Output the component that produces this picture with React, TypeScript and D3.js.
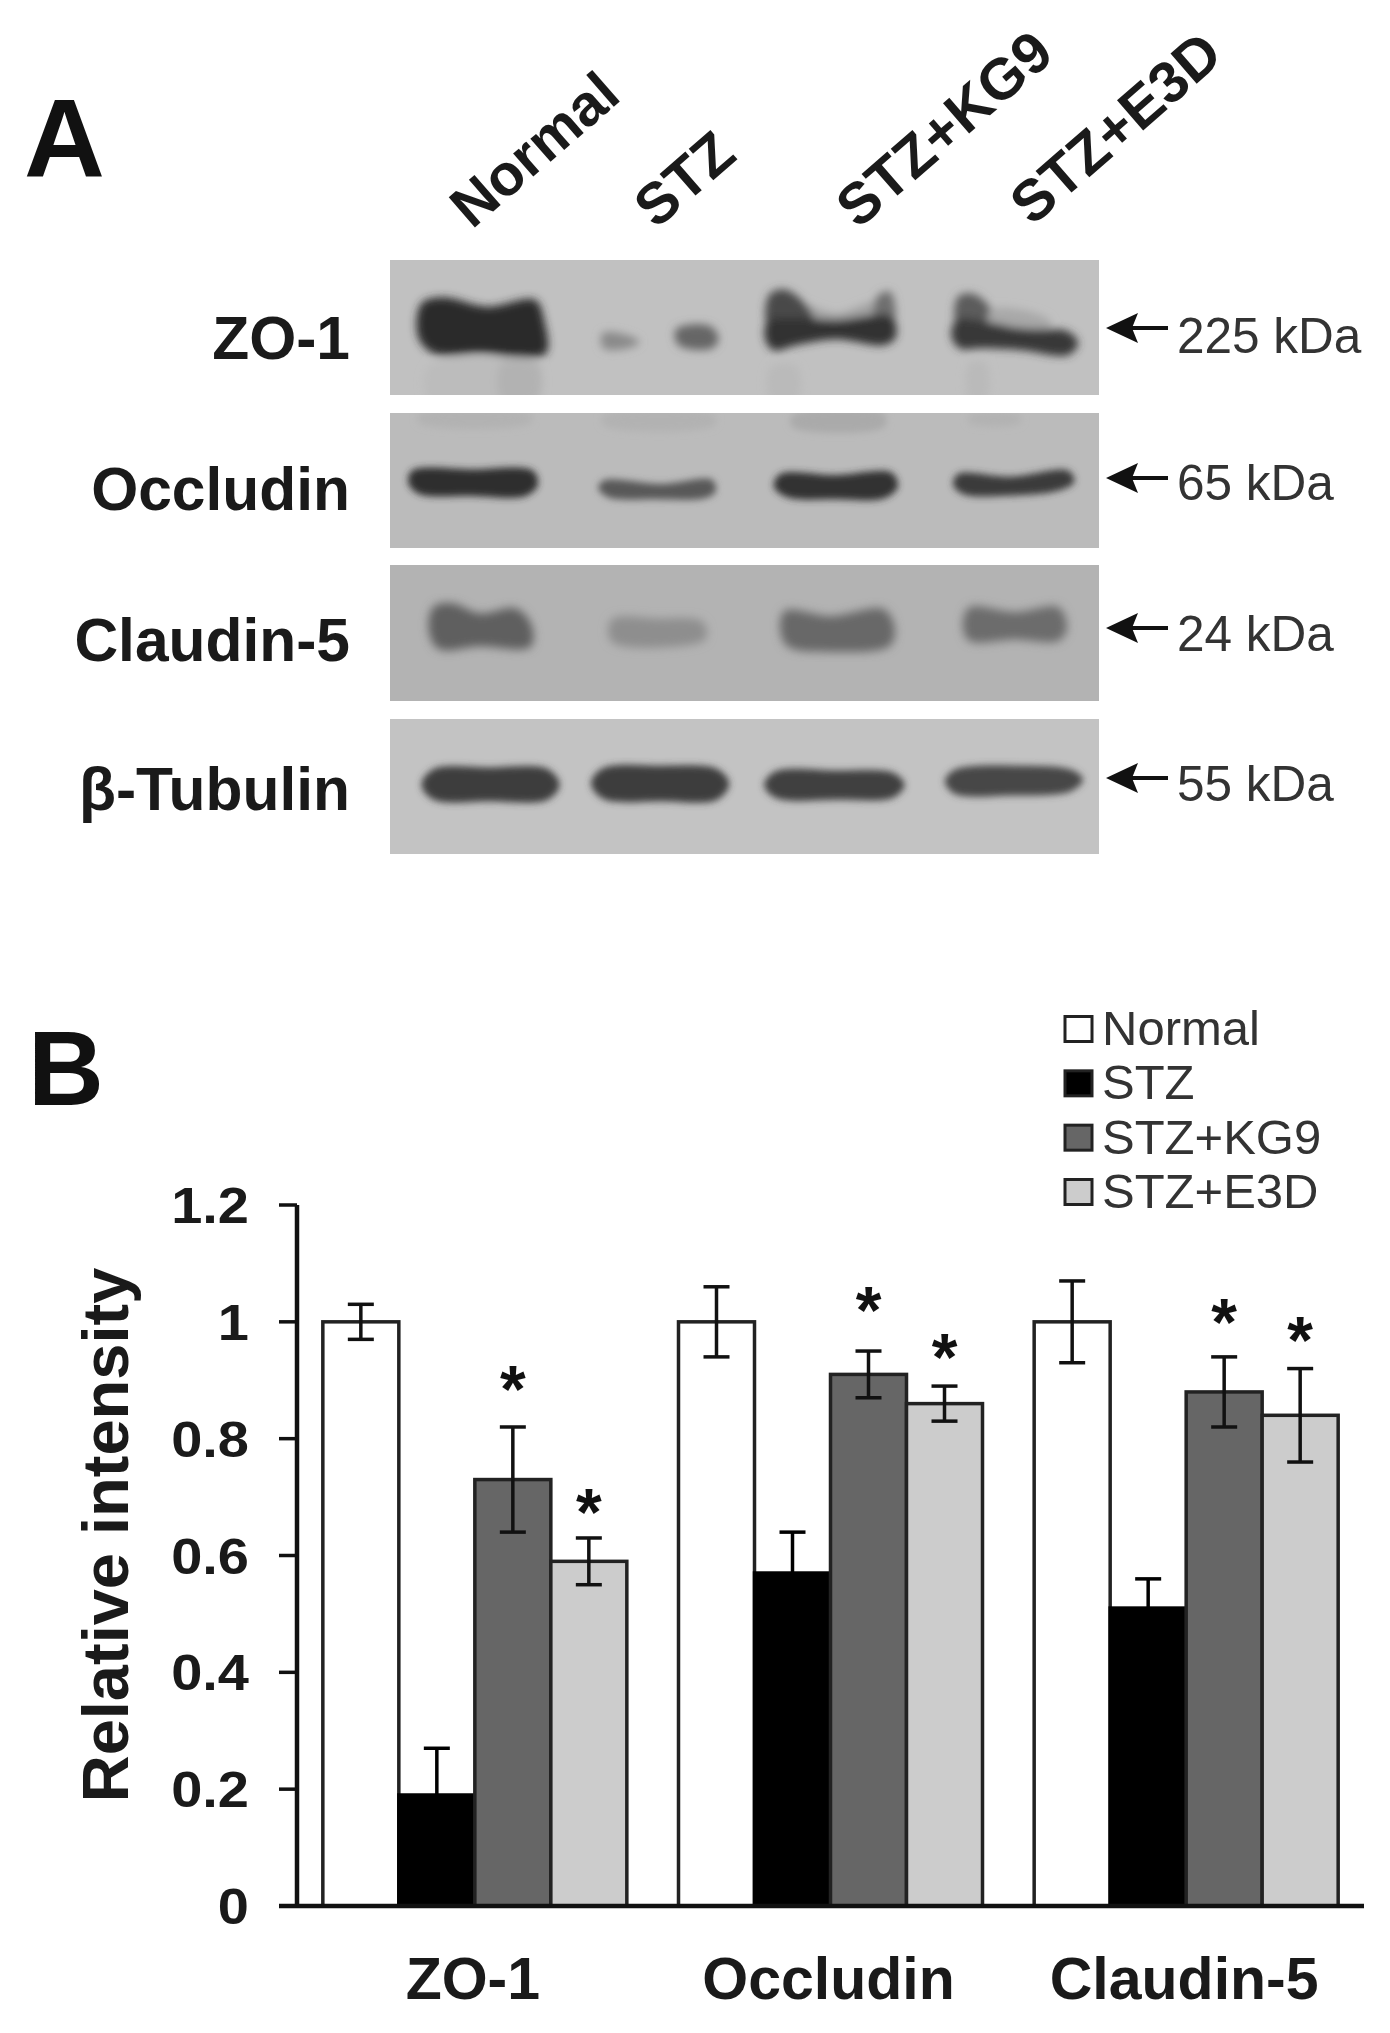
import React from "react";
import * as d3 from "d3";

const groups = ["ZO-1", "Occludin", "Claudin-5"];
const series = ["Normal", "STZ", "STZ+KG9", "STZ+E3D"];
const normalValues = [1, 1, 1];
const stzValues = [0.19, 0.57, 0.51];
const kg9Values = [0.73, 0.91, 0.88];
const e3dValues = [0.59, 0.86, 0.84];
const normalErrors = [0.03, 0.06, 0.07];
const stzErrors = [0.08, 0.07, 0.05];
const kg9Errors = [0.09, 0.04, 0.06];
const e3dErrors = [0.04, 0.03, 0.08];
const starLevels = [
  [null, null, 0.9, 0.69],
  [null, null, 1.035, 0.955],
  [null, null, 1.015, 0.985],
];
const yTicks = [0, 0.2, 0.4, 0.6, 0.8, 1, 1.2];
const fills = ["#ffffff", "#000000", "#666666", "#cccccc"];

const laneLabels = ["Normal", "STZ", "STZ+KG9", "STZ+E3D"];
const blotRows = ["ZO-1", "Occludin", "Claudin-5", "β-Tubulin"];
const blotWeights = ["225 kDa", "65 kDa", "24 kDa", "55 kDa"];
const blotBackgrounds = ["#c1c1c1", "#bbbbbb", "#b3b3b3", "#c3c3c3"];

type Blob = { tone: string; pts: number[][] };
// band outlines, in units of the blot crop
const zo1Bands: Blob[] = [
  { tone: "#bcbcbc", pts: [[120, 380], [340, 380], [340, 480], [120, 480]] },
  { tone: "#b2b2b2", pts: [[270, 370], [345, 370], [345, 480], [270, 480]] },
  { tone: "#bababa", pts: [[825, 380], [880, 380], [880, 480], [825, 480]] },
  { tone: "#bababa", pts: [[1235, 370], [1270, 370], [1270, 480], [1235, 480]] },
  { tone: "#2c2c2c", pts: [[105, 190], [150, 172], [240, 200], [340, 180], [358, 240], [362, 340], [300, 350], [230, 340], [130, 340], [98, 290]] },
  { tone: "#8a8a8a", pts: [[478, 280], [510, 278], [555, 305], [530, 325], [480, 325]] },
  { tone: "#666666", pts: [[630, 268], [700, 258], [718, 295], [705, 325], [635, 315]] },
  { tone: "#a2a2a2", pts: [[880, 190], [960, 220], [1050, 185], [1060, 250], [880, 250]] },
  { tone: "#484848", pts: [[822, 165], [852, 148], [885, 175], [915, 245], [822, 265]] },
  { tone: "#6e6e6e", pts: [[1045, 170], [1072, 155], [1080, 245], [1042, 245]] },
  { tone: "#333333", pts: [[820, 245], [880, 235], [960, 240], [1075, 230], [1084, 290], [1060, 315], [960, 298], [880, 315], [830, 330], [813, 290]] },
  { tone: "#5c5c5c", pts: [[1212, 170], [1250, 165], [1300, 265], [1212, 265]] },
  { tone: "#a8a8a8", pts: [[1280, 210], [1400, 240], [1400, 280], [1280, 280]] },
  { tone: "#383838", pts: [[1210, 240], [1270, 245], [1340, 265], [1440, 275], [1460, 310], [1440, 345], [1340, 330], [1260, 325], [1215, 325], [1198, 285]] },
];
const occludinBands: Blob[] = [
  { tone: "#b2b2b2", pts: [[100, 522], [330, 522], [330, 548], [100, 548]] },
  { tone: "#b2b2b2", pts: [[480, 525], [710, 525], [710, 555], [480, 555]] },
  { tone: "#aaaaaa", pts: [[870, 525], [1060, 520], [1060, 560], [870, 560]] },
  { tone: "#b2b2b2", pts: [[1235, 525], [1340, 525], [1340, 548], [1235, 548]] },
  { tone: "#2e2e2e", pts: [[85, 692], [210, 688], [335, 692], [345, 735], [320, 768], [210, 768], [100, 762], [78, 730]] },
  { tone: "#585858", pts: [[480, 722], [600, 732], [705, 720], [712, 755], [690, 775], [590, 778], [490, 772], [470, 745]] },
  { tone: "#333333", pts: [[845, 702], [960, 705], [1075, 698], [1088, 740], [1060, 775], [960, 778], [860, 772], [832, 740]] },
  { tone: "#3b3b3b", pts: [[1212, 702], [1320, 710], [1440, 692], [1452, 725], [1420, 752], [1300, 768], [1225, 764], [1202, 735]] },
];
const claudinBands: Blob[] = [
  { tone: "#5e5e5e", pts: [[130, 170], [170, 160], [225, 190], [300, 175], [332, 225], [330, 290], [225, 288], [140, 296], [120, 240]] },
  { tone: "#8e8e8e", pts: [[500, 205], [590, 205], [685, 215], [692, 265], [620, 290], [500, 278], [490, 240]] },
  { tone: "#686868", pts: [[855, 182], [950, 198], [1060, 178], [1082, 240], [1070, 288], [950, 305], [860, 288], [845, 235]] },
  { tone: "#6c6c6c", pts: [[1235, 172], [1330, 186], [1420, 172], [1437, 235], [1420, 272], [1330, 268], [1235, 272], [1222, 225]] },
];
const tubulinBands: Blob[] = [
  { tone: "#3e3e3e", pts: [[130, 658], [245, 653], [365, 658], [390, 705], [365, 750], [245, 754], [130, 750], [105, 705]] },
  { tone: "#3c3c3c", pts: [[480, 655], [600, 648], [715, 658], [740, 702], [715, 750], [600, 754], [480, 747], [455, 700]] },
  { tone: "#404040", pts: [[835, 665], [960, 662], [1080, 670], [1102, 705], [1080, 742], [960, 750], [835, 744], [812, 705]] },
  { tone: "#474747", pts: [[1205, 660], [1350, 648], [1450, 662], [1470, 690], [1445, 724], [1320, 737], [1205, 732], [1185, 695]] },
];
const blotBands = [zo1Bands, occludinBands, claudinBands, tubulinBands];
const blotDomains = [[60, 465], [518, 925], [45, 452], [508, 912]];
const blotRanges = [[260, 395], [413, 548], [565, 701], [719, 854]];
const blotBlur = [4, 3.6, 5, 3.6];

const FONT = "'Liberation Sans', Arial, sans-serif";

export default function App() {
  const y = d3.scaleLinear().domain([0, 1.2]).range([1906, 1205]);
  const x0 = d3.scaleBand<string>().domain(groups).range([297, 1364]);
  const x1 = d3.scaleBand<string>().domain(series).range([-152, 152]);
  const values = [normalValues, stzValues, kg9Values, e3dValues];
  const errors = [normalErrors, stzErrors, kg9Errors, e3dErrors];

  const blotX = d3.scaleLinear().domain([40, 1503]).range([390, 1099]);
  const outline = d3.line<number[]>().curve(d3.curveCatmullRomClosed.alpha(0.5));

  return (
    <svg
      width={1390}
      height={2033}
      viewBox="0 0 1390 2033"
      style={{ position: "absolute", left: 0, top: 0, background: "#fff", filter: "blur(0.7px)" }}
      fontFamily={FONT}
    >
      <defs>
        {blotBlur.map((b, i) => (
          <filter key={i} id={`blur${i}`} x="-20%" y="-20%" width="140%" height="140%">
            <feGaussianBlur stdDeviation={b} />
          </filter>
        ))}
        {blotRanges.map((r, i) => (
          <clipPath key={i} id={`panel${i}`}>
            <rect x={blotX(40)} y={r[0]} width={blotX(1503) - blotX(40)} height={r[1] - r[0]} />
          </clipPath>
        ))}
      </defs>

      {/* Panel A */}
      <text x={24} y={177} fontSize={112} fontWeight={700} fill="#111">A</text>
      {laneLabels.map((t, i) => {
        const anchors = [[472, 230], [656, 230], [858, 230], [1032, 227]];
        return (
          <text key={t} transform={`translate(${anchors[i][0]},${anchors[i][1]}) rotate(-41)`} fontSize={58} fontWeight={700} fill="#1a1a1a">
            {t}
          </text>
        );
      })}
      {blotRows.map((row, i) => {
        const yb = d3.scaleLinear().domain(blotDomains[i]).range(blotRanges[i]);
        const arrowYs = [328, 478, 628, 778];
        const rowBase = [359, 510, 661, 810];
        const weightBase = [353, 500, 651, 801];
        return (
          <g key={row}>
            <rect x={blotX(40)} y={blotRanges[i][0]} width={blotX(1503) - blotX(40)} height={blotRanges[i][1] - blotRanges[i][0]} fill={blotBackgrounds[i]} />
            <g clipPath={`url(#panel${i})`}>
              <g filter={`url(#blur${i})`}>
                {blotBands[i].map((b, k) => (
                  <path key={k} d={outline(b.pts.map((p) => [blotX(p[0]), yb(p[1])])) || ""} fill={b.tone} />
                ))}
              </g>
            </g>
            <text x={350} y={rowBase[i]} textAnchor="end" fontSize={60.5} fontWeight={700} fill="#1a1a1a">{row}</text>
            <line x1={1125} x2={1168} y1={arrowYs[i]} y2={arrowYs[i]} stroke="#111" strokeWidth={4} />
            <path d={`M1106,${arrowYs[i]}L1138,${arrowYs[i] - 15}L1132,${arrowYs[i]}L1138,${arrowYs[i] + 15}Z`} fill="#111" />
            <text x={1177} y={weightBase[i]} fontSize={49.5} fill="#333">{blotWeights[i]}</text>
          </g>
        );
      })}

      {/* Panel B */}
      <text x={28} y={1105} fontSize={105} fontWeight={700} fill="#111">B</text>

      {series.map((s, i) => {
        const ly = d3.scaleLinear().domain([0, 3]).range([1029, 1192]);
        return (
          <g key={s}>
            <rect x={1065} y={ly(i) - 12.5} width={27} height={25} fill={fills[i]} stroke="#222" strokeWidth={3} />
            <text x={1102} y={ly(i) + 16} fontSize={49} fill="#333">{s}</text>
          </g>
        );
      })}

      {groups.map((g, gi) =>
        series.map((s, si) => {
          const left = (x0(g) as number) + x0.bandwidth() / 2 + (x1(s) as number);
          const w = x1.bandwidth();
          const v = values[si][gi];
          const e = errors[si][gi];
          const cx = left + w / 2;
          const star = starLevels[gi][si];
          return (
            <g key={g + s}>
              <rect x={left} y={y(v)} width={w} height={y(0) - y(v)} fill={fills[si]} stroke={si === 1 ? "#000" : "#222"} strokeWidth={3.5} />
              <g stroke={si === 1 ? "#000" : "#111"} strokeWidth={3.5}>
                <line x1={cx} x2={cx} y1={y(v + e)} y2={y(v - e)} />
                <line x1={cx - 13} x2={cx + 13} y1={y(v + e)} y2={y(v + e)} />
                <line x1={cx - 13} x2={cx + 13} y1={y(v - e)} y2={y(v - e)} />
              </g>
              {star !== null && (
                <text x={cx} y={y(star) + 32} textAnchor="middle" fontSize={66} fontWeight={700} fill="#111">*</text>
              )}
            </g>
          );
        })
      )}

      <line x1={297} x2={297} y1={y(1.2)} y2={y(0)} stroke="#111" strokeWidth={4.5} />
      <line x1={279} x2={1364} y1={y(0)} y2={y(0)} stroke="#111" strokeWidth={4.5} />
      {yTicks.map((t) => (
        <g key={t}>
          <line x1={279} x2={297} y1={y(t)} y2={y(t)} stroke="#111" strokeWidth={3.5} />
          <text transform={`translate(249,${y(t) + 18}) scale(1.12,1)`} textAnchor="end" fontSize={50} fontWeight={700} fill="#1a1a1a">{t}</text>
        </g>
      ))}
      <text transform="translate(128,1535) rotate(-90)" textAnchor="middle" fontSize={65} fontWeight={700} fill="#1a1a1a">Relative intensity</text>
      {groups.map((g) => (
        <text key={g} x={(x0(g) as number) + x0.bandwidth() / 2 - 2} y={1999} textAnchor="middle" fontSize={59} fontWeight={700} fill="#1a1a1a">{g}</text>
      ))}
    </svg>
  );
}
